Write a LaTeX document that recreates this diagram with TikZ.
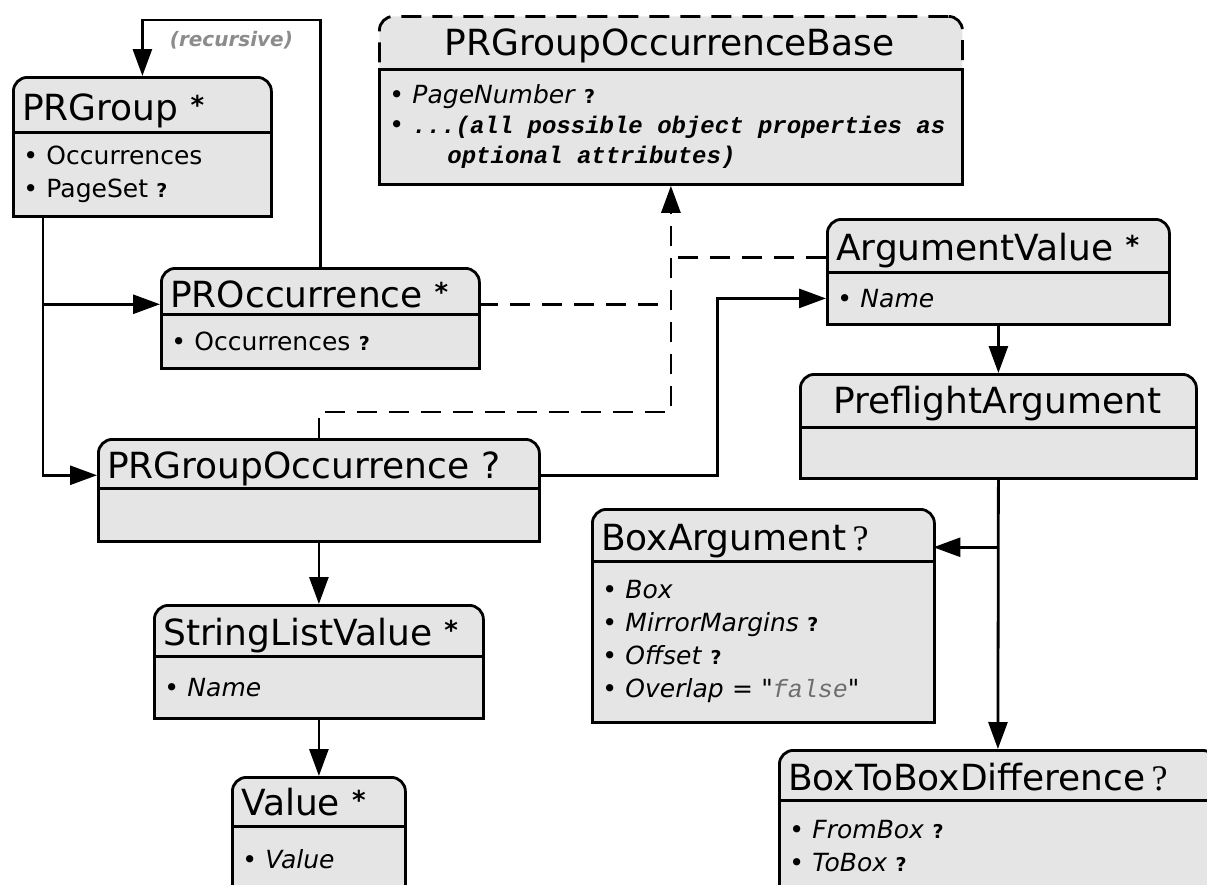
\documentclass[tikz,border=0pt]{standalone}
\usepackage{fontspec}
\setmainfont{DejaVu Sans}
\newfontfamily\qfont{Liberation Serif}
\newfontfamily\codefont{Liberation Mono}
\newfontfamily\rawsans{DejaVu Sans}
\usetikzlibrary{positioning,arrows.meta,calc}
\definecolor{boxgray}{HTML}{E5E5E5}
\definecolor{notegray}{HTML}{8C8C8C}
\definecolor{codegray}{HTML}{6E6E6E}
\newcommand{\opt}{\ {\upshape\bfseries\fontsize{19}{33}\selectfont ?}}
\newcommand{\many}{\raisebox{6pt}{\bfseries\fontsize{26}{26}\selectfont *}}
\newcommand{\dq}{{\rawsans\itshape "}}

\begin{document}
\begin{tikzpicture}[x=1pt,y=1pt,
  cls/.style={draw,line width=2.8pt,fill=boxgray,rounded corners=14pt,
    anchor=north west,inner sep=0pt},
  hdr/.style={anchor=base west,inner xsep=10pt,inner ysep=0pt,align=left,
    font=\fontsize{36}{40}\selectfont},
  attrs/.style={draw,line width=2.8pt,fill=boxgray,anchor=north west,
    inner xsep=10pt,inner ysep=0pt,align=left,font=\fontsize{25}{33}\selectfont},
  ar/.style={line width=2.8pt,-{Triangle[length=27pt,width=19pt]}},
  dl/.style={line width=2.8pt,dash pattern=on 20pt off 12pt},
  note/.style={font=\fontsize{20}{24}\selectfont\bfseries\itshape,text=notegray}]
\clip (0,0) rectangle (1207,-884);
% classes
\node[cls,minimum width=258,minimum height=139] (prgroup) at (12,-76) {};
\node[hdr,text width=238] (prgroup-h) at (12,-120) {PRGroup~\many};
\node[attrs,text width=238,minimum height=84] (prgroup-b) at (12,-131)
  {\textbullet\ Occurrences\\ \textbullet\ PageSet\opt};

\node[cls,dashed,dash pattern=on 20pt off 11pt,minimum width=583,minimum height=168] (base) at (378,-15) {};
\node[hdr,text width=563,align=center] (base-h) at (378,-55) {PRGroupOccurrenceBase};
\node[attrs,text width=563,minimum height=115,font=\fontsize{25}{30}\selectfont] (base-b) at (378,-68)
  {\textbullet\ \textit{PageNumber}\opt\\
   \textbullet\ {\codefont\bfseries\itshape\fontsize{24}{30}\selectfont\spaceskip=14.4pt\relax ...(all possible object properties as}\\
   \hspace*{58pt}{\codefont\bfseries\itshape\fontsize{24}{30}\selectfont\spaceskip=14.4pt\relax optional attributes)}};

\node[cls,minimum width=318,minimum height=100] (proc) at (160,-267) {};
\node[hdr,text width=298] (proc-h) at (160,-307) {PROccurrence~\many};
\node[attrs,text width=298,minimum height=54] (proc-b) at (160,-313)
  {\textbullet\ Occurrences\opt};

\node[cls,minimum width=342,minimum height=105] (argval) at (826,-218) {};
\node[hdr,text width=322] (argval-h) at (826,-260) {ArgumentValue~\many};
\node[attrs,text width=322,minimum height=52] (argval-b) at (826,-271)
  {\textbullet\ \textit{Name}};

\node[cls,minimum width=396,minimum height=104] (preflight) at (799,-373) {};
\node[hdr,text width=376,align=center] (preflight-h) at (799,-413) {PreflightArgument};
\node[attrs,text width=376,minimum height=51] (preflight-b) at (799,-426) {};

\node[cls,minimum width=441,minimum height=102] (prgocc) at (97,-438) {};
\node[hdr,text width=421] (prgocc-h) at (97,-478) {PRGroupOccurrence~?};
\node[attrs,text width=421,minimum height=53] (prgocc-b) at (97,-487) {};

\node[cls,minimum width=342,minimum height=213] (boxarg) at (591,-508) {};
\node[hdr,text width=322] (boxarg-h) at (591,-550) {BoxArgument\,{\qfont ?}};
\node[attrs,text width=322,minimum height=161] (boxarg-b) at (591,-560)
  {\textbullet\ \textit{Box}\\ \textbullet\ \textit{MirrorMargins}\opt\\
   \textbullet\ \textit{Offset}\opt\\
   \textbullet\ \textit{Overlap =} \dq{\codefont\itshape\color{codegray}false}\dq};

\node[cls,minimum width=329,minimum height=113] (strlist) at (153,-604) {};
\node[hdr,text width=309] (strlist-h) at (153,-645) {StringListValue~\many};
\node[attrs,text width=309,minimum height=62] (strlist-b) at (153,-655)
  {\textbullet\ \textit{Name}};

\node[cls,minimum width=173,minimum height=114] (value) at (231,-776) {};
\node[hdr,text width=153] (value-h) at (231,-815) {Value~\many};
\node[attrs,text width=153,minimum height=65] (value-b) at (231,-825)
  {\textbullet\ \textit{Value}};

\node[cls,minimum width=437,minimum height=141] (b2b) at (778,-749) {};
\node[hdr,text width=417] (b2b-h) at (778,-790) {BoxToBoxDifference\,{\qfont ?}};
\node[attrs,text width=417,minimum height=91] (b2b-b) at (778,-799)
  {\textbullet\ \textit{FromBox}\opt\\ \textbullet\ \textit{ToBox}\opt};

% connectors
\coordinate (trunk) at (43,-215);
\draw[ar] (proc.north) -- ++(0,247) -| node[pos=0.25,below=7pt,note] (reclbl) {(recursive)} (prgroup.north);
\draw[ar] (trunk) |- (prgocc-h.mid west);
\draw[ar] (trunk |- proc-h.mid west) -- (proc-h.mid west);
\draw[ar,dl] (prgocc.north) -- ++(0,26) -| (base.south);
\draw[dl] (proc-h.mid east) -- (proc-h.mid east -| base.south);
\draw[dl] (argval-h.mid west) -- (argval-h.mid west -| base.south);
\draw[ar] (prgocc-h.mid east) -- ++(179,0) |- (argval-b.west);
\draw[ar] (argval.south) -- (preflight.north);
\draw[ar] (preflight.south) -- (b2b.north);
\draw[ar] (preflight.south |- boxarg-h.mid east) -- (boxarg-h.mid east);
\draw[ar] (prgocc.south) -- (strlist.north);
\draw[ar] (strlist.south) -- (value.north);
\end{tikzpicture}
\end{document}
